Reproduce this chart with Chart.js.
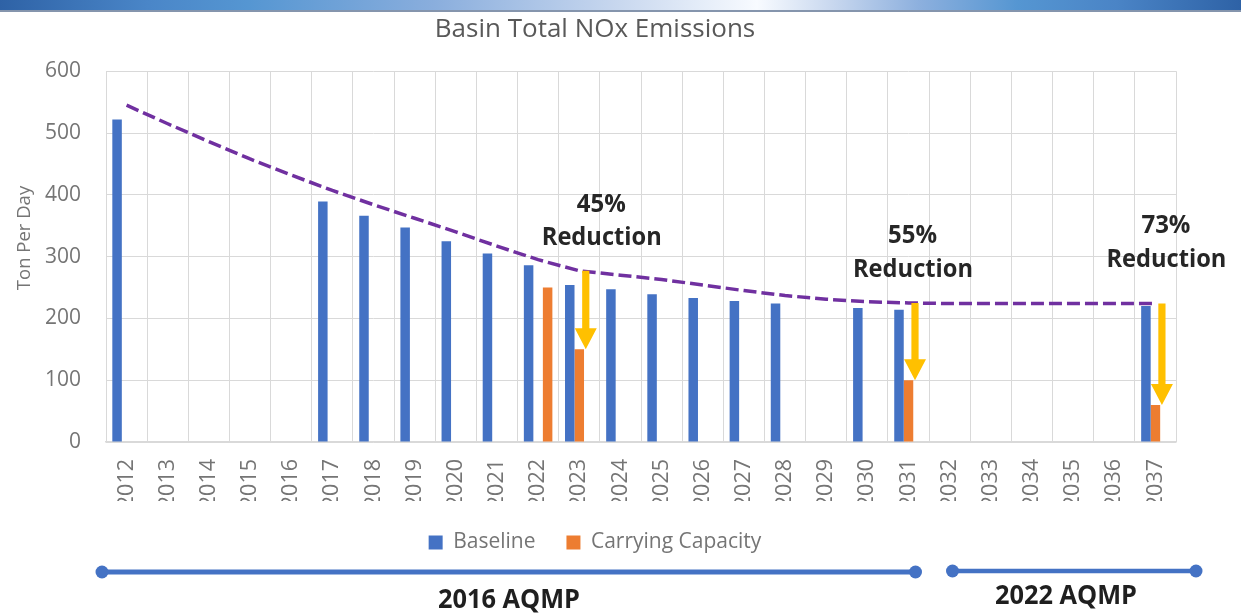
<!DOCTYPE html>
<html>
<head>
<meta charset="utf-8">
<script src="https://cdn.jsdelivr.net/npm/chart.js@4/dist/chart.umd.min.js"></script>
<style>
  html, body { margin: 0; padding: 0; background: #ffffff; }
  #wrap { position: relative; width: 1241px; height: 614px; overflow: hidden; }
  #banner { position: absolute; left: 0; top: 0; width: 1241px; height: 10px;
    background: linear-gradient(to right, #2e62a6 0%, #4a86c8 12%, #5596d2 20%, #8aaedd 35%, #c9d8ef 50%, #f8fbff 61%, #c9d8ef 67%, #8db0de 74%, #5596d2 82%, #4a84c6 90%, #2e62a6 100%); }
  #bannerLine { position: absolute; left: 0; top: 10px; width: 1241px; height: 2px; background: #8595ad; }
  canvas { position: absolute; left: 0; top: 0; }
</style>
</head>
<body>
<div id="wrap">
  <canvas id="c" width="1241" height="614"></canvas>
  <div id="banner"></div>
  <div id="bannerLine"></div>
</div>
<script>
// ---------- data ----------
const years = ['2012','2013','2014','2015','2016','2017','2018','2019','2020','2021','2022','2023','2024',
               '2025','2026','2027','2028','2029','2030','2031','2032','2033','2034','2035','2036','2037'];
const baseline = [522, null, null, null, null, 389, 366, 347, 325, 305, 286, 254, 247,
                  239, 233, 228, 224, null, 217, 214, null, null, null, null, null, 220];
const carryingCapacity = [null, null, null, null, null, null, null, null, null, null, null, 150, null,
                          null, null, null, null, null, null, 100, null, null, null, null, null, 60];
const carrying2022 = [null, null, null, null, null, null, null, null, null, null, 250, null, null,
                      null, null, null, null, null, null, null, null, null, null, null, null, null];
const trend = [545, 515, 486, 458, 432, 407, 384, 362, 340, 317, 295, 277, 270,
               263, 254, 245, 237, 231, 227, 225, 224, 224, 224, 224, 224, 224];
const yTicks = [0, 100, 200, 300, 400, 500, 600];
const yTitle = 'Ton Per Day';
const reductionYears = ['2023', '2031', '2037'];
const reductionText = ['45%', '55%', '73%'];
const plans = ['2016 AQMP', '2022 AQMP'];

const BLUE = '#4472C4', ORANGE = '#ED7D31', PURPLE = '#7030A0', GOLD = '#FFC000';
const FONT = "'Open Sans', 'DejaVu Sans', sans-serif";

function fittedText(ctx, text, cx, cy, font, targetW, color) {
  ctx.save();
  ctx.font = font;
  const w = ctx.measureText(text).width;
  const sx = targetW / w;
  ctx.translate(cx, cy);
  ctx.scale(sx, 1);
  ctx.fillStyle = color;
  ctx.textAlign = 'center';
  ctx.textBaseline = 'middle';
  ctx.fillText(text, 0, 0);
  ctx.restore();
}

const annot = {
  id: 'annot',
  afterDraw(chart) {
    const ctx = chart.ctx;
    // y axis title (Excel places it slightly above centre)
    ctx.save();
    ctx.translate(25, 238);
    ctx.rotate(-Math.PI / 2);
    ctx.font = "18.5px " + FONT;
    ctx.fillStyle = '#757575';
    ctx.textAlign = 'center';
    ctx.textBaseline = 'middle';
    ctx.fillText(yTitle, 0, 0);
    ctx.restore();
  },
  afterDatasetsDraw(chart) {
    const ctx = chart.ctx, xs = chart.scales.x, ys = chart.scales.y;
    // arrows
    reductionYears.forEach((yr) => {
      const i = years.indexOf(yr);
      const x = xs.getPixelForValue(i) + 6.5;
      const yTop = ys.getPixelForValue(trend[i]);
      const yTip = ys.getPixelForValue(carryingCapacity[i]);
      const head = 21, hw = 11, sw = 3.6;
      ctx.save();
      ctx.fillStyle = GOLD;
      ctx.beginPath();
      ctx.moveTo(x - sw, yTop);
      ctx.lineTo(x + sw, yTop);
      ctx.lineTo(x + sw, yTip - head);
      ctx.lineTo(x + hw, yTip - head);
      ctx.lineTo(x, yTip);
      ctx.lineTo(x - hw, yTip - head);
      ctx.lineTo(x - sw, yTip - head);
      ctx.closePath();
      ctx.fill();
      ctx.restore();
    });
    // reduction labels
    const offs = [22, 4, 10.5];
    const pctY = [384, 334, 350];
    const redY = [330, 278, 294];
    reductionYears.forEach((yr, k) => {
      const i = years.indexOf(yr);
      const cx = xs.getPixelForValue(i) + offs[k];
      fittedText(ctx, reductionText[k], cx, ys.getPixelForValue(pctY[k]), "bold 25px " + FONT, 49, '#262626');
      fittedText(ctx, 'Reduction', cx + 0.5, ys.getPixelForValue(redY[k]), "bold 25px " + FONT, 120, '#262626');
    });
    // timeline
    const segs = [[102, 915.5, 572, 5], [952.5, 1196, 571, 4.5]];
    ctx.save();
    ctx.strokeStyle = BLUE; ctx.fillStyle = BLUE;
    segs.forEach(s => {
      ctx.lineWidth = s[3];
      ctx.beginPath(); ctx.moveTo(s[0], s[2]); ctx.lineTo(s[1], s[2]); ctx.stroke();
      [s[0], s[1]].forEach(px => { ctx.beginPath(); ctx.arc(px, s[2], 6.5, 0, Math.PI * 2); ctx.fill(); });
    });
    ctx.restore();
    fittedText(ctx, plans[0], 509, 600, "bold 27px " + FONT, 142, '#1f1f1f');
    fittedText(ctx, plans[1], 1066, 596, "bold 27px " + FONT, 142, '#1f1f1f');
  }
};

Chart.defaults.font.family = FONT;

new Chart(document.getElementById('c'), {
  type: 'bar',
  data: {
    labels: years,
    datasets: [
      { label: 'Baseline', data: baseline, backgroundColor: BLUE, order: 2 },
      { label: 'Carrying Capacity', data: carryingCapacity, backgroundColor: ORANGE, order: 2 },
      { label: 'Carrying Capacity 2022', data: carrying2022, backgroundColor: ORANGE, order: 2 },
      { type: 'line', label: 'Trend', data: trend, borderColor: PURPLE, borderWidth: 3.5,
        borderDash: [13, 5], borderCapStyle: 'butt', pointRadius: 0, tension: 0, fill: false, order: 1 }
    ]
  },
  options: {
    responsive: false,
    animation: false,
    layout: { padding: { left: 14, right: 65, top: 14, bottom: 51 } },
    datasets: { bar: { categoryPercentage: 0.693, barPercentage: 1.0 } },
    plugins: {
      tooltip: { enabled: false },
      title: {
        display: true, text: 'Basin Total NOx Emissions', color: '#595959',
        font: { family: FONT, size: 26, weight: 'normal' }, padding: { top: 0, bottom: 26 }
      },
      legend: {
        position: 'bottom',
        labels: {
          filter: (item) => item.datasetIndex < 2,
          boxWidth: 14, boxHeight: 14, padding: 31, color: '#757575',
          font: { family: FONT, size: 21 }
        }
      }
    },
    scales: {
      x: {
        grid: { color: '#d9d9d9', lineWidth: 1, drawTicks: false, offset: true },
        border: { color: '#d9d9d9', width: 1.5 },
        ticks: { color: '#757575', font: { size: 21.5 }, minRotation: 90, maxRotation: 90, padding: 17, autoSkip: false },
        afterFit: (s) => { s.height = 59; }
      },
      y: {
        min: 0, max: 600,
        afterBuildTicks: (s) => { s.ticks = yTicks.map(v => ({ value: v })); },
        grid: { color: '#d9d9d9', lineWidth: 1, drawTicks: false },
        border: { display: false },
        ticks: { color: '#757575', font: { size: 21 }, padding: 25 },
        afterFit: (s) => { s.width = 92; }
      }
    }
  },
  plugins: [annot]
});
</script>
</body>
</html>
